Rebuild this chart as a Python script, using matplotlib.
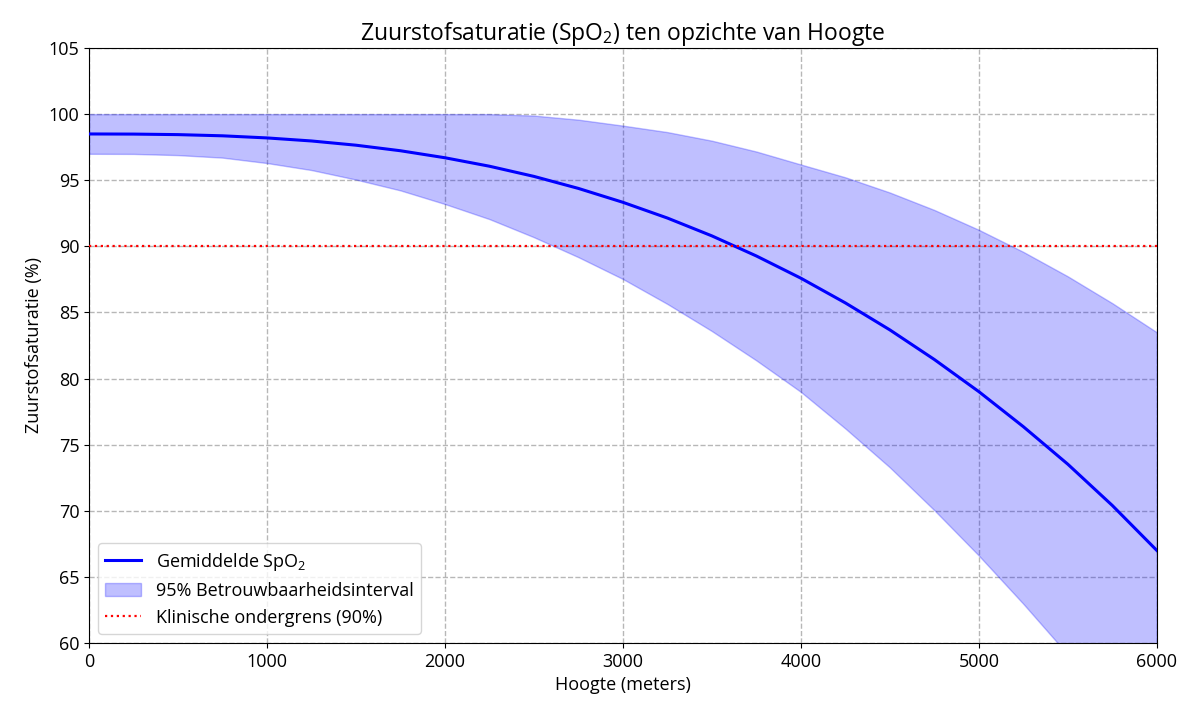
import matplotlib
matplotlib.use("Agg")
import matplotlib.pyplot as plt

plt.rcParams['font.family'] = ['Open Sans', 'DejaVu Sans']
plt.rcParams['mathtext.fontset'] = 'custom'
plt.rcParams['mathtext.rm'] = 'Open Sans'

# Hoogte (m) en SpO2 (%)
hoogte = [0, 250, 500, 750, 1000, 1250, 1500, 1750, 2000, 2250, 2500, 2750,
          3000, 3250, 3500, 3750, 4000, 4250, 4500, 4750, 5000, 5250, 5500,
          5750, 6000]
spo2_gem = [98.50, 98.49, 98.45, 98.36, 98.20, 97.97, 97.65, 97.23, 96.70,
            96.06, 95.29, 94.38, 93.33, 92.14, 90.79, 89.27, 87.59, 85.72,
            83.68, 81.44, 79.01, 76.36, 73.52, 70.40, 67.00]
spo2_onder = [97.00, 96.99, 96.90, 96.71, 96.30, 95.77, 95.05, 94.23, 93.20,
              92.06, 90.69, 89.18, 87.53, 85.64, 83.59, 81.37, 78.99, 76.22,
              73.28, 70.04, 66.61, 62.96, 59.12, 54.96, 50.58]
spo2_boven = [100.0, 100.0, 100.0, 100.0, 100.0, 100.0, 100.0, 100.0, 100.0,
              100.0, 99.89, 99.58, 99.13, 98.64, 97.99, 97.17, 96.19, 95.22,
              94.07, 92.75, 91.25, 89.58, 87.73, 85.70, 83.50]
ondergrens = 90

fig, ax = plt.subplots(figsize=(12, 7.2), dpi=100)
fig.subplots_adjust(left=0.0742, right=0.964, top=0.9333, bottom=0.107)

ax.plot(hoogte, spo2_gem, color="blue", lw=2.2, label=r"Gemiddelde SpO$_2$", zorder=3)
ax.fill_between(hoogte, spo2_onder, spo2_boven, color="blue", alpha=0.25,
                label="95% Betrouwbaarheidsinterval", zorder=2)
ax.axhline(ondergrens, color="red", ls=":", lw=1.6,
           label="Klinische ondergrens (90%)", zorder=3)

ax.set_xlim(0, 6000)
ax.set_ylim(60, 105)
ax.set_title(r"Zuurstofsaturatie (SpO$_2$) ten opzichte van Hoogte", fontsize=16.5)
ax.set_xlabel("Hoogte (meters)", fontsize=13)
ax.set_ylabel("Zuurstofsaturatie (%)", fontsize=13)
ax.tick_params(labelsize=13)
ax.grid(True, linestyle="--", color="#b0b0b0", alpha=0.9, lw=1)
ax.legend(loc="lower left", fontsize=13)

plt.savefig("out.png", dpi=100)
